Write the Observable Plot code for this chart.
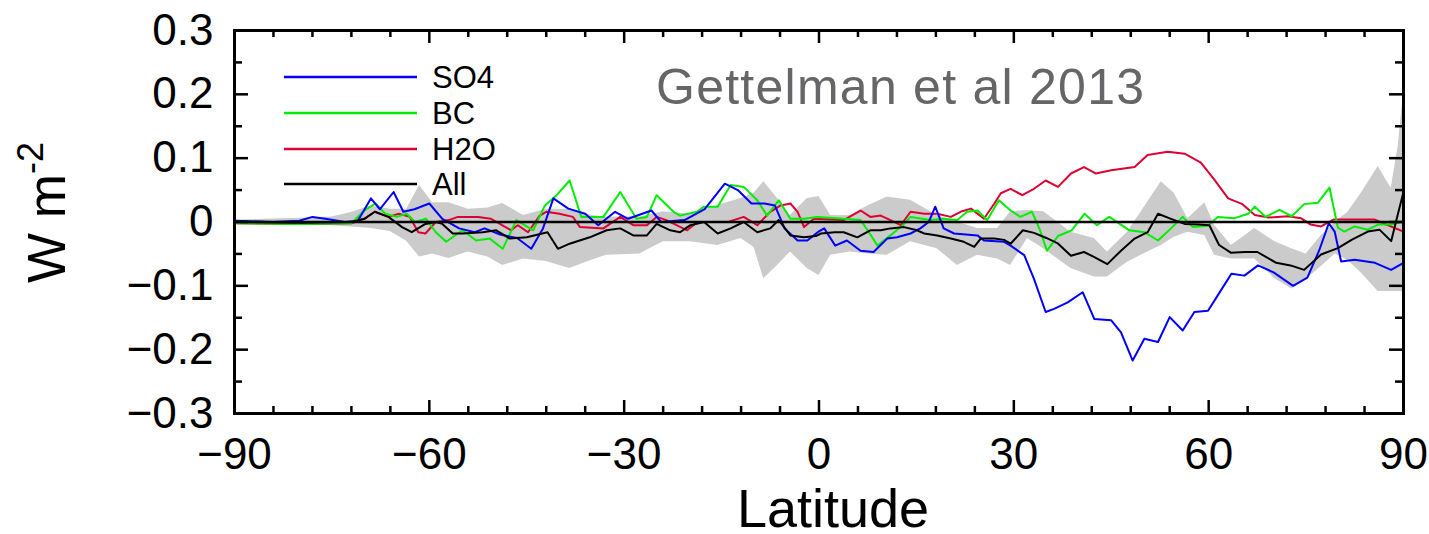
<!DOCTYPE html>
<html><head><meta charset="utf-8">
<script src="https://cdn.jsdelivr.net/npm/d3@7"></script>
<script src="https://cdn.jsdelivr.net/npm/@observablehq/plot@0.6"></script>
<style>
body{margin:0;background:#fff;}
#chart{width:1429px;height:534px;}
svg text{font-family:"Liberation Sans",Arial,Helvetica,sans-serif;}
</style>
</head><body><div id="chart"></div>
<script>
// ---- data ----
const seriesNames = ["SO4", "BC", "H2O", "All"];
const seriesColors = ["#0000ff", "#00ee00", "#dd0033", "#000000"];

const so4Lat = [-90,-84,-80,-78,-76,-73,-71,-69,-67.6,-65.5,-64,-62.3,-60,-58,-55.4,-53,-51.5,-49,-46.5,-44.3,-42.5,-40.9,-38.6,-36,-34,-31.4,-29.4,-25.8,-24.3,-20.7,-17.6,-14.5,-12.5,-10.4,-8.4,-6.8,-5.3,-3.3,-1.8,-0.2,0.8,2.5,4.3,6.4,8.4,10.5,12,14.1,15.6,16.9,17.9,19.2,20.8,24.4,25.4,28.5,29.5,31.6,33.1,34.9,36.2,38.3,40.6,42.4,45,46.5,48.3,50.1,52.2,54,56,57.8,59.9,61.4,63.5,65.5,67.6,70,73,75.2,77,78.5,79.4,80.4,82.5,85.6,88.1,90];
const so4Val = [0.002,0.0,0.002,0.008,0.005,0.0,0.002,0.037,0.02,0.047,0.016,0.02,0.029,0.005,-0.01,-0.016,-0.01,-0.02,-0.025,-0.042,-0.01,0.037,0.021,0.013,-0.005,0.016,0.005,0.018,0.0,0.003,0.02,0.06,0.05,0.029,0.029,0.026,-0.01,-0.029,-0.029,-0.016,-0.01,-0.037,-0.029,-0.045,-0.047,-0.026,-0.024,-0.018,-0.01,0.0,0.024,-0.01,-0.018,-0.021,-0.029,-0.031,-0.037,-0.052,-0.089,-0.141,-0.136,-0.126,-0.11,-0.152,-0.154,-0.173,-0.217,-0.183,-0.188,-0.149,-0.17,-0.141,-0.139,-0.115,-0.081,-0.084,-0.068,-0.079,-0.1,-0.087,-0.045,-0.002,-0.015,-0.062,-0.059,-0.064,-0.075,-0.064];

const bcLat = [-90,-80,-72,-70,-68.3,-66.8,-65,-63.5,-62.2,-60.5,-59,-57.4,-54.9,-52.8,-50.7,-48.7,-46.6,-44,-42.2,-40.4,-38.4,-36.6,-33.2,-30.6,-28.1,-26.5,-25,-22.4,-21.4,-18.8,-17.7,-15.6,-13.6,-11.6,-9.5,-8,-6.2,-4.4,-2.3,-0.3,3.8,6.4,7.7,9,11,13.1,14.1,17.2,19.2,21.3,22.8,24.4,25.9,27.7,29.5,31,32.8,34,35.1,36.8,38.9,40.9,42.8,44.7,47.8,50.1,52.2,54.2,56,57.6,59.9,61.4,64,66.1,67.1,68.8,70.9,72.8,74.7,76.8,78.6,79.9,80.9,82.5,84.5,86.1,88.1,90];
const bcVal = [-0.002,-0.003,-0.002,0.018,0.029,0.013,0.008,0.013,0.0,0.005,-0.016,-0.031,-0.013,-0.029,-0.026,-0.042,0.003,-0.013,0.026,0.042,0.065,0.008,0.008,0.047,0.005,0.008,0.042,0.016,0.01,0.016,0.024,0.024,0.058,0.055,0.034,0.01,0.034,0.005,0.005,0.008,0.005,0.003,-0.016,-0.037,-0.021,-0.003,0.008,0.003,0.005,0.003,0.016,0.018,0.003,0.034,0.018,0.008,0.016,-0.012,-0.045,-0.022,-0.013,0.013,-0.005,0.008,-0.013,-0.016,-0.029,-0.01,0.008,-0.008,-0.006,0.008,0.006,0.013,0.024,0.008,0.019,0.009,0.028,0.03,0.054,-0.009,-0.015,-0.007,-0.012,-0.004,-0.004,0.001];

const h2oLat = [-90,-80,-72,-70,-68.4,-66.3,-64.7,-63,-61.7,-60.6,-59,-57,-55.6,-52.5,-50.5,-47.4,-46.4,-44.8,-43,-42,-40,-37.9,-36.8,-33.2,-30.6,-28.6,-26.5,-25,-23.5,-20.3,-18.7,-14,-11.6,-9.5,-7.5,-5.9,-4.4,-3.3,-2.3,-0.8,3.8,6.4,7.9,9.5,11,12.6,14.1,16.2,18.2,20.3,21.8,23.4,25.4,27,28,29.5,31.3,33.1,34.9,36.8,38.8,40.8,42.6,45,48.6,50.6,53.7,56.3,58.8,60.9,63,65.2,67.1,69.2,72.2,74.2,75.7,77.3,79.3,85.5,88.1,90];
const h2oVal = [-0.002,-0.003,-0.002,0.005,0.016,0.008,0.013,0.008,-0.016,-0.018,0.0,0.003,0.008,0.008,0.005,-0.013,-0.005,-0.016,0.01,0.016,0.013,0.008,-0.008,-0.01,0.008,-0.005,-0.005,0.008,0.003,-0.013,0.0,0.0,0.008,-0.005,0.016,0.026,0.029,0.016,-0.008,0.005,0.003,0.018,0.008,0.01,0.003,-0.005,0.016,0.013,0.013,0.008,0.016,0.021,0.005,0.029,0.045,0.052,0.042,0.052,0.065,0.055,0.076,0.086,0.076,0.081,0.086,0.105,0.11,0.107,0.093,0.066,0.037,0.028,0.011,0.007,0.009,0.006,-0.004,-0.007,0.004,0.004,-0.007,-0.015];

const allLat = [-90,-80,-72,-70,-68.4,-66.3,-64.2,-62.7,-60.6,-59,-58,-56.4,-54.9,-51.8,-49.7,-47.6,-45,-41.8,-40.2,-38.4,-35.3,-32.7,-30.6,-28.6,-26.5,-25,-22.9,-21.4,-19.8,-17.7,-15.6,-13.6,-11.6,-9.5,-7.5,-6.2,-4.4,-2.3,-0.5,0.3,2.4,3.8,5.9,7.9,9.5,11,13.1,15.1,16.2,18.2,20.3,22.3,23.9,24.9,27,28.5,29.5,31.4,33.1,35,36.7,38.8,40.8,42.4,44.4,46.5,48.6,50.6,52.2,54.2,56.3,58.5,60.1,61.6,63.4,65.6,67.5,70.4,72.6,74.7,77.3,79.9,82,84.5,86.3,88.1,89.1,90];
const allVal = [0.0,-0.001,0.0,0.005,0.016,0.008,-0.008,-0.016,-0.003,0.0,-0.003,-0.018,-0.018,-0.016,-0.013,-0.026,-0.024,-0.016,-0.042,-0.034,-0.024,-0.013,-0.01,-0.021,-0.021,-0.003,-0.013,-0.016,-0.005,0.0,-0.018,-0.01,0.0,-0.016,-0.01,0.003,-0.021,-0.024,-0.022,-0.018,-0.016,-0.016,-0.024,-0.013,-0.013,-0.01,-0.008,-0.013,-0.018,-0.021,-0.026,-0.031,-0.039,-0.026,-0.026,-0.028,-0.034,-0.013,-0.017,-0.025,-0.033,-0.053,-0.047,-0.055,-0.066,-0.045,-0.026,-0.016,0.013,0.005,-0.003,-0.004,-0.005,-0.036,-0.048,-0.047,-0.047,-0.064,-0.068,-0.075,-0.051,-0.041,-0.028,-0.015,-0.012,-0.03,0.011,0.047];

// grey spread band
const bandLat = [-90,-80,-75,-72,-69,-66,-63.5,-61.5,-59.5,-57,-54,-51,-48.7,-45.5,-42,-38.4,-35,-32.7,-27.6,-24,-19.8,-15.6,-12,-10,-8.5,-6.4,-4.4,-1.8,0,1.8,4.8,7.5,10.5,14.1,18.2,21.3,24.4,27.5,29.5,32.1,34.6,38.8,42.4,44.4,47.5,50.6,52.7,54.7,56.8,59.4,60.9,63.5,67.1,70.2,72.8,75,77.3,79.5,81.4,83.5,86.1,88.1,89.2,90];
const bandLo = [-0.003,-0.005,-0.006,-0.008,-0.01,-0.015,-0.03,-0.055,-0.05,-0.057,-0.047,-0.055,-0.068,-0.058,-0.062,-0.073,-0.06,-0.052,-0.05,-0.031,-0.031,-0.037,-0.026,-0.04,-0.089,-0.068,-0.047,-0.073,-0.084,-0.052,-0.047,-0.05,-0.052,-0.031,-0.042,-0.068,-0.052,-0.058,-0.068,-0.026,-0.042,-0.073,-0.086,-0.086,-0.063,-0.047,-0.037,-0.024,-0.016,-0.021,-0.052,-0.058,-0.058,-0.089,-0.105,-0.09,-0.07,-0.05,-0.06,-0.08,-0.109,-0.109,-0.109,-0.109];
const bandHi = [0.003,0.006,0.008,0.015,0.025,0.02,0.02,0.057,0.03,0.03,0.02,0.022,0.029,0.01,0.02,0.02,0.01,0.008,0.008,0.016,0.012,0.026,0.037,0.045,0.063,0.037,0.01,0.037,0.04,0.01,0.01,0.025,0.039,0.034,0.01,0.0,-0.01,-0.01,0.016,0.018,0.016,-0.016,-0.026,-0.047,-0.016,0.031,0.063,0.045,0.005,0.03,-0.005,-0.037,-0.01,-0.031,-0.042,-0.05,-0.022,0.0,0.015,0.045,0.087,0.053,0.12,0.203];

const xMajor = [-90,-60,-30,0,30,60,90];
const xMinor = [-84,-78,-72,-66,-54,-48,-42,-36,-24,-18,-12,-6,6,12,18,24,36,42,48,54,66,72,78,84];
const yMajor = [-0.3,-0.2,-0.1,0,0.1,0.2,0.3];
const yMinor = [-0.25,-0.15,-0.05,0.05,0.15,0.25];
const yTickLabels = ["\u22120.3","\u22120.2","\u22120.1","0","0.1","0.2","0.3"];

// ---- build tables ----
const toRows = (lat, val) => lat.map((d, i) => ({lat: d, value: val[i]}));
const lats = [so4Lat, bcLat, h2oLat, allLat];
const vals = [so4Val, bcVal, h2oVal, allVal];
const rows = seriesNames.map((n, k) => toRows(lats[k], vals[k]));
const band = bandLat.map((d, i) => ({lat: d, lo: bandLo[i], hi: bandHi[i]}));

const W = 1429, H = 534;
const mL = 234, mR = 26, mT = 30, mB = 121;
const pw = W - mL - mR, ph = H - mT - mB;
const tickW = 2.5;

const svg = Plot.plot({
  width: W, height: H,
  marginLeft: mL, marginRight: mR, marginTop: mT, marginBottom: mB,
  style: {fontFamily: '"Liberation Sans", Arial, sans-serif', background: "#fff", color: "#000"},
  x: {domain: [-90, 90], label: null},
  y: {domain: [-0.3, 0.3], label: null},
  marks: [
    Plot.areaY(band, {x: "lat", y1: "lo", y2: "hi", fill: "#cbcbcb", curve: "linear"}),
    Plot.line(rows[2], {x: "lat", y: "value", stroke: seriesColors[2], strokeWidth: 2}),
    Plot.line(rows[1], {x: "lat", y: "value", stroke: seriesColors[1], strokeWidth: 2}),
    Plot.line(rows[0], {x: "lat", y: "value", stroke: seriesColors[0], strokeWidth: 2}),
    Plot.line(rows[3], {x: "lat", y: "value", stroke: seriesColors[3], strokeWidth: 2}),
    Plot.ruleY([0], {stroke: "#000", strokeWidth: 2.5}),
    // inward ticks, all four sides
    Plot.tickX(xMajor, {x: d => d, stroke: "#000", strokeWidth: tickW, insetTop: ph - 13}),
    Plot.tickX(xMajor, {x: d => d, stroke: "#000", strokeWidth: tickW, insetBottom: ph - 13}),
    Plot.tickX(xMinor, {x: d => d, stroke: "#000", strokeWidth: tickW, insetTop: ph - 7}),
    Plot.tickX(xMinor, {x: d => d, stroke: "#000", strokeWidth: tickW, insetBottom: ph - 7}),
    Plot.tickY(yMajor, {y: d => d, stroke: "#000", strokeWidth: tickW, insetRight: pw - 14}),
    Plot.tickY(yMajor, {y: d => d, stroke: "#000", strokeWidth: tickW, insetLeft: pw - 14}),
    Plot.tickY(yMinor, {y: d => d, stroke: "#000", strokeWidth: tickW, insetRight: pw - 8}),
    Plot.tickY(yMinor, {y: d => d, stroke: "#000", strokeWidth: tickW, insetLeft: pw - 8}),
    Plot.frame({stroke: "#000", strokeWidth: 3}),
    Plot.axisX(xMajor, {anchor: "bottom", label: null, tickSize: 0, tickPadding: 24, fontSize: 44, tickFormat: d => d < 0 ? "\u2212" + (-d) : String(d)}),
    Plot.axisY(yMajor, {anchor: "left", label: null, tickSize: 0, tickPadding: 21, fontSize: 44, tickFormat: d => yTickLabels[yMajor.indexOf(d)]})
  ]
});

const s = d3.select(svg);
const font = '"Liberation Sans", Arial, sans-serif';
// x title
s.append("text").attr("x", 833).attr("y", 527).attr("text-anchor", "middle")
  .attr("font-size", 54).attr("font-family", font).attr("fill", "#000").text("Latitude");
// y title with superscript
const yl = s.append("text").attr("transform", "translate(65,283) rotate(-90)")
  .attr("text-anchor", "start").attr("font-size", 53).attr("font-family", font).attr("fill", "#000");
yl.append("tspan").text("W m");
yl.append("tspan").attr("dy", -22).attr("font-size", 36).text("-2");
// annotation
s.append("text").attr("x", 656).attr("y", 104).attr("text-anchor", "start").attr("font-size", 50).attr("font-family", font)
  .attr("fill", "#666669").attr("textLength", 488).attr("lengthAdjust", "spacing").text("Gettelman et al 2013");
// legend
const legY = [77, 113, 149, 184];
const leg = s.append("g");
seriesNames.forEach((n, i) => {
  leg.append("line").attr("x1", 284).attr("x2", 417).attr("y1", legY[i]).attr("y2", legY[i])
    .attr("stroke", seriesColors[i]).attr("stroke-width", 2.5);
  leg.append("text").attr("x", 432).attr("y", legY[i] + 11).attr("text-anchor", "start").attr("font-size", 31)
    .attr("font-family", font).attr("fill", "#000").text(n);
});
document.getElementById("chart").appendChild(svg);
</script>
</body></html>
